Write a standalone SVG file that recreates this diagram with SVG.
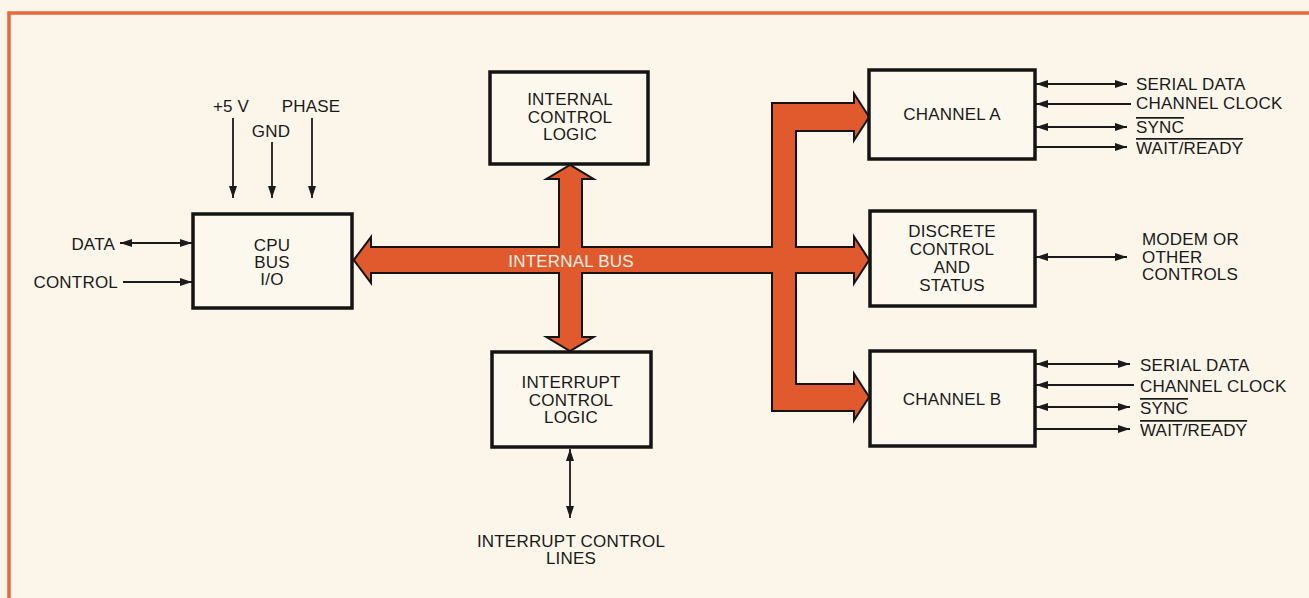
<svg xmlns="http://www.w3.org/2000/svg" width="1309" height="598" viewBox="0 0 1309 598">
<defs>
<marker id="ah" viewBox="0 0 12 8" refX="12" refY="4" markerWidth="12" markerHeight="8" markerUnits="userSpaceOnUse" orient="auto-start-reverse">
<path d="M0,0 L12,4 L0,8 z" fill="#1a1a1a"/>
</marker>
<style>
.bg{fill:#fcf6ea}
.frame{fill:none;stroke:#e8683a;stroke-width:3.5}
.box{fill:#fdf8ee;stroke:#141414;stroke-width:3.5}
.t{font-family:"Liberation Sans",Arial,sans-serif;font-size:17px;fill:#1a1a1a;letter-spacing:0.2px}
.c{text-anchor:middle}
.e{text-anchor:end}
.w{fill:#fdf1e4;font-size:17px}
.ln{fill:none;stroke:#1a1a1a;stroke-width:1.8}
.bi{marker-start:url(#ah);marker-end:url(#ah)}
.to{marker-end:url(#ah)}
.busO{fill:#141414;stroke:#141414;stroke-width:4;stroke-linejoin:miter}
.busF{fill:#e15a2d}
.ov{text-decoration:overline}
</style>
</defs>
<rect class="bg" x="0" y="0" width="1309" height="598"/>
<path class="frame" d="M9,598 V13 H1309"/>

<g id="connectors">
<g id="bus-outline" class="busO">
<path d="M355,260 L370,240 L370,248 L855,248 L855,240 L868,260 L855,280 L855,272 L370,272 L370,280 Z"/>
<path d="M570,166 L590,178 L581,178 L581,338 L590,338 L570,350 L550,338 L560,338 L560,178 L550,178 Z"/>
<path d="M773,104 L855,104 L855,97 L868,117 L855,137 L855,130 L795,130 L795,385 L855,385 L855,377 L868,397 L855,417 L855,410 L773,410 Z"/>
</g>
<g id="bus-fill" class="busF">
<path d="M355,260 L370,240 L370,248 L855,248 L855,240 L868,260 L855,280 L855,272 L370,272 L370,280 Z"/>
<path d="M570,166 L590,178 L581,178 L581,338 L590,338 L570,350 L550,338 L560,338 L560,178 L550,178 Z"/>
<path d="M773,104 L855,104 L855,97 L868,117 L855,137 L855,130 L795,130 L795,385 L855,385 L855,377 L868,397 L855,417 L855,410 L773,410 Z"/>
</g>
<text class="t c w" x="571" y="267">INTERNAL BUS</text>

<line class="ln to" x1="233" y1="118" x2="233" y2="198"/>
<line class="ln to" x1="272" y1="142" x2="272" y2="198"/>
<line class="ln to" x1="312" y1="118" x2="312" y2="198"/>
<line class="ln bi" x1="120" y1="243" x2="192" y2="243"/>
<line class="ln to" x1="123" y1="282" x2="192" y2="282"/>

<line class="ln bi" x1="1036" y1="84" x2="1127" y2="84"/>
<line class="ln" x1="1131" y1="104" x2="1036" y2="104" marker-end="url(#ah)"/>
<line class="ln bi" x1="1036" y1="127" x2="1127" y2="127"/>
<line class="ln to" x1="1036" y1="147" x2="1127" y2="147"/>

<line class="ln bi" x1="1036" y1="257" x2="1127" y2="257"/>

<line class="ln bi" x1="1036" y1="364" x2="1130" y2="364"/>
<line class="ln" x1="1134" y1="385" x2="1036" y2="385" marker-end="url(#ah)"/>
<line class="ln bi" x1="1036" y1="407" x2="1130" y2="407"/>
<line class="ln to" x1="1036" y1="429" x2="1130" y2="429"/>

<line class="ln bi" x1="570" y1="449" x2="570" y2="518"/>
</g>

<g id="labels">
<text class="t c" x="231" y="112">+5 V</text>
<text class="t c" x="271" y="137">GND</text>
<text class="t c" x="311" y="112">PHASE</text>
<text class="t e" x="115" y="250">DATA</text>
<text class="t e" x="118" y="288">CONTROL</text>
<text class="t" x="1136" y="90">SERIAL DATA</text>
<text class="t" x="1136" y="109">CHANNEL CLOCK</text>
<text class="t" x="1136" y="133"><tspan class="ov">SYNC</tspan></text>
<text class="t" x="1136" y="154"><tspan class="ov">WAIT/READY</tspan></text>
<text class="t" x="1142" y="245">MODEM OR</text>
<text class="t" x="1142" y="263">OTHER</text>
<text class="t" x="1142" y="280">CONTROLS</text>
<text class="t" x="1140" y="371">SERIAL DATA</text>
<text class="t" x="1140" y="392">CHANNEL CLOCK</text>
<text class="t" x="1140" y="414"><tspan class="ov">SYNC</tspan></text>
<text class="t" x="1140" y="436"><tspan class="ov">WAIT/READY</tspan></text>
<text class="t c" x="571" y="547">INTERRUPT CONTROL</text>
<text class="t c" x="571" y="564">LINES</text>
</g>

<g id="cpu">
<rect class="box" x="193" y="214" width="159" height="94"/>
<text class="t c" x="272" y="251">CPU</text>
<text class="t c" x="272" y="268">BUS</text>
<text class="t c" x="272" y="285">I/O</text>
</g>

<g id="internal-control">
<rect class="box" x="490" y="72" width="158" height="92"/>
<text class="t c" x="570" y="105">INTERNAL</text>
<text class="t c" x="570" y="123">CONTROL</text>
<text class="t c" x="570" y="140">LOGIC</text>
</g>

<g id="interrupt-control">
<rect class="box" x="492" y="352" width="159" height="95"/>
<text class="t c" x="571" y="388">INTERRUPT</text>
<text class="t c" x="571" y="406">CONTROL</text>
<text class="t c" x="571" y="423">LOGIC</text>
</g>

<g id="channel-a">
<rect class="box" x="869" y="70" width="166" height="89"/>
<text class="t c" x="952" y="120">CHANNEL A</text>
</g>

<g id="discrete">
<rect class="box" x="870" y="211" width="165" height="95"/>
<text class="t c" x="952" y="237">DISCRETE</text>
<text class="t c" x="952" y="255">CONTROL</text>
<text class="t c" x="952" y="273">AND</text>
<text class="t c" x="952" y="291">STATUS</text>
</g>

<g id="channel-b">
<rect class="box" x="870" y="351" width="165" height="95"/>
<text class="t c" x="952" y="405">CHANNEL B</text>
</g>
</svg>
